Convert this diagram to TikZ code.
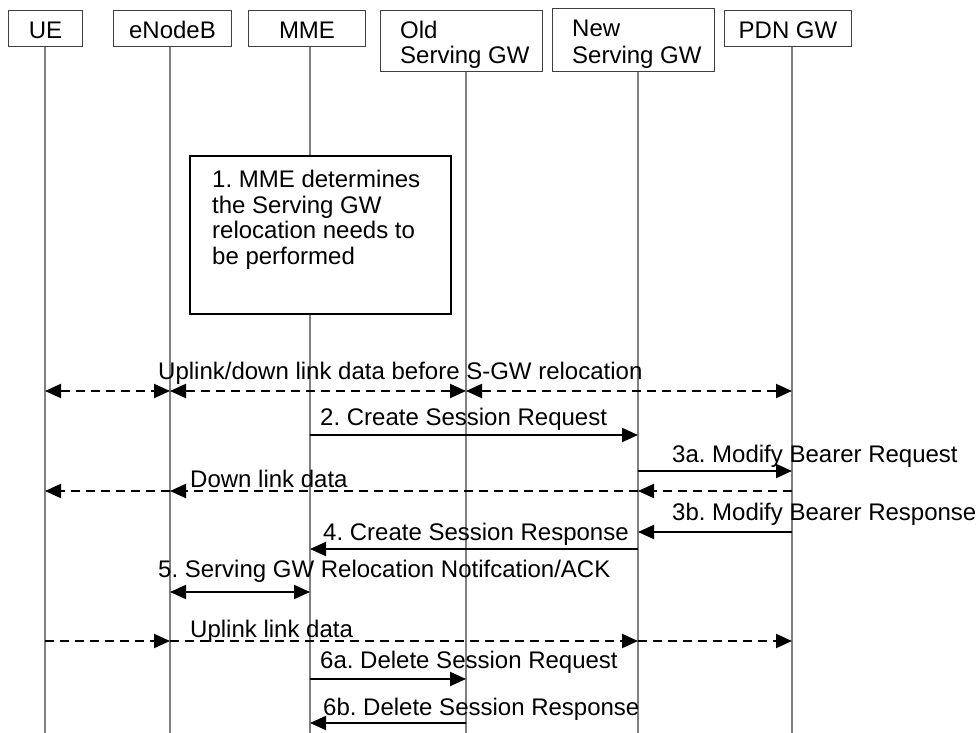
\documentclass[tikz,border=0pt]{standalone}
\usepackage{fontspec}
\setmainfont{Liberation Sans}
\usetikzlibrary{arrows.meta}
\frenchspacing
\begin{document}
\begin{tikzpicture}[x=1pt,y=-1pt,
  every node/.style={font=\fontsize{24pt}{26pt}\selectfont},
  hdr/.style={draw=black!75, line width=1pt, rectangle, inner sep=0pt, anchor=north west, text height=20pt, text depth=0pt},
  life/.style={draw=black!50, line width=1.1pt},
  tipA/.tip={Triangle[length=16pt,width=14pt]},
  msg/.style={line width=2pt, -tipA},
  bmsg/.style={line width=2pt, tipA-tipA},
  dmsg/.style={msg, dash pattern=on 9pt off 6pt},
  dbmsg/.style={bmsg, dash pattern=on 9pt off 6pt},
  lbl/.style={anchor=base west, inner sep=0pt},
  notebox/.style={draw=black, line width=2pt, fill=white, rectangle, inner sep=0pt, anchor=north west}]
\useasboundingbox (0,0) rectangle (978,733);
% header boxes
\node[hdr, minimum width=74pt, minimum height=36pt] (ue) at (8,10) {UE};
\node[hdr, minimum width=118pt, minimum height=36pt] (enb) at (113,10) {eNodeB};
\node[hdr, minimum width=117pt, minimum height=36pt] (mme) at (248,10) {MME};
\node[hdr, minimum width=162pt, minimum height=61pt] (osgw) at (380,10) {};
\node[lbl] (osgwA) at (400,39) {Old};
\node[lbl] (osgwB) at (400,64) {Serving GW};
\node[hdr, minimum width=162pt, minimum height=63pt] (nsgw) at (552,8) {};
\node[lbl] (nsgwA) at (572,37) {New};
\node[lbl] (nsgwB) at (572,64) {Serving GW};
\node[hdr, minimum width=127pt, minimum height=36pt] (pgw) at (724,10) {PDN GW};
% lifeline x positions and bottom
\coordinate (xUE) at (45,0);
\coordinate (xENB) at (170,0);
\coordinate (xMME) at (310,0);
\coordinate (xOSGW) at (466,0);
\coordinate (xNSGW) at (638,0);
\coordinate (xPGW) at (792,0);
\coordinate (bot) at (0,733);
\draw[life] (xUE |- ue.south) -- (xUE |- bot);
\draw[life] (xENB |- enb.south) -- (xENB |- bot);
\draw[life] (xMME |- mme.south) -- (xMME |- bot);
\draw[life] (xOSGW |- osgw.south) -- (xOSGW |- bot);
\draw[life] (xNSGW |- nsgw.south) -- (xNSGW |- bot);
\draw[life] (xPGW |- pgw.south) -- (xPGW |- bot);
% step 1 box
\node[notebox, minimum width=261pt, minimum height=158pt] (step1) at (189,155) {};
\node[anchor=north west, align=left, inner sep=0pt, font=\fontsize{24pt}{25.5pt}\selectfont] (step1t) at (212,170)
  {1. MME determines\\the Serving GW\\relocation needs to\\be performed};
% rows
\coordinate (r1) at (0,391);
\coordinate (r2) at (0,435);
\coordinate (r3a) at (0,471);
\coordinate (rdl) at (0,491);
\coordinate (r3b) at (0,532);
\coordinate (r4) at (0,549);
\coordinate (r5) at (0,592);
\coordinate (rul) at (0,641);
\coordinate (r6a) at (0,679);
\coordinate (r6b) at (0,723);
% messages
\draw[dbmsg] (xUE |- r1) -- (xENB |- r1);
\draw[dbmsg] (xENB |- r1) -- (xOSGW |- r1);
\draw[dbmsg] (xOSGW |- r1) -- (xPGW |- r1);
\node[lbl] (l1) at (158,379) {Uplink/down link data before S-GW relocation};
\draw[msg] (xMME |- r2) -- (xNSGW |- r2);
\node[lbl] (l2) at (320,425) {2. Create Session Request};
\draw[msg] (xNSGW |- r3a) -- (xPGW |- r3a);
\node[lbl] (l3a) at (672,462) {3a. Modify Bearer Request};
\draw[dmsg] (xPGW |- rdl) -- (xNSGW |- rdl);
\draw[dmsg] (xNSGW |- rdl) -- (xENB |- rdl);
\draw[dmsg] (xENB |- rdl) -- (xUE |- rdl);
\node[lbl] (ldl) at (190,487) {Down link data};
\draw[msg] (xPGW |- r3b) -- (xNSGW |- r3b);
\node[lbl] (l3b) at (672,520) {3b. Modify Bearer Response};
\draw[msg] (xNSGW |- r4) -- (xMME |- r4);
\node[lbl] (l4) at (323,540) {4. Create Session Response};
\draw[bmsg] (xENB |- r5) -- (xMME |- r5);
\node[lbl] (l5) at (158,577) {5. Serving GW Relocation Notifcation/ACK};
\draw[dmsg] (xUE |- rul) -- (xENB |- rul);
\draw[dmsg] (xENB |- rul) -- (xNSGW |- rul);
\draw[dmsg] (xNSGW |- rul) -- (xPGW |- rul);
\node[lbl] (lul) at (190,637) {Uplink link data};
\draw[msg] (xMME |- r6a) -- (xOSGW |- r6a);
\node[lbl] (l6a) at (320,668) {6a. Delete Session Request};
\draw[msg] (xOSGW |- r6b) -- (xMME |- r6b);
\node[lbl] (l6b) at (323,715) {6b. Delete Session Response};
\end{tikzpicture}
\end{document}
